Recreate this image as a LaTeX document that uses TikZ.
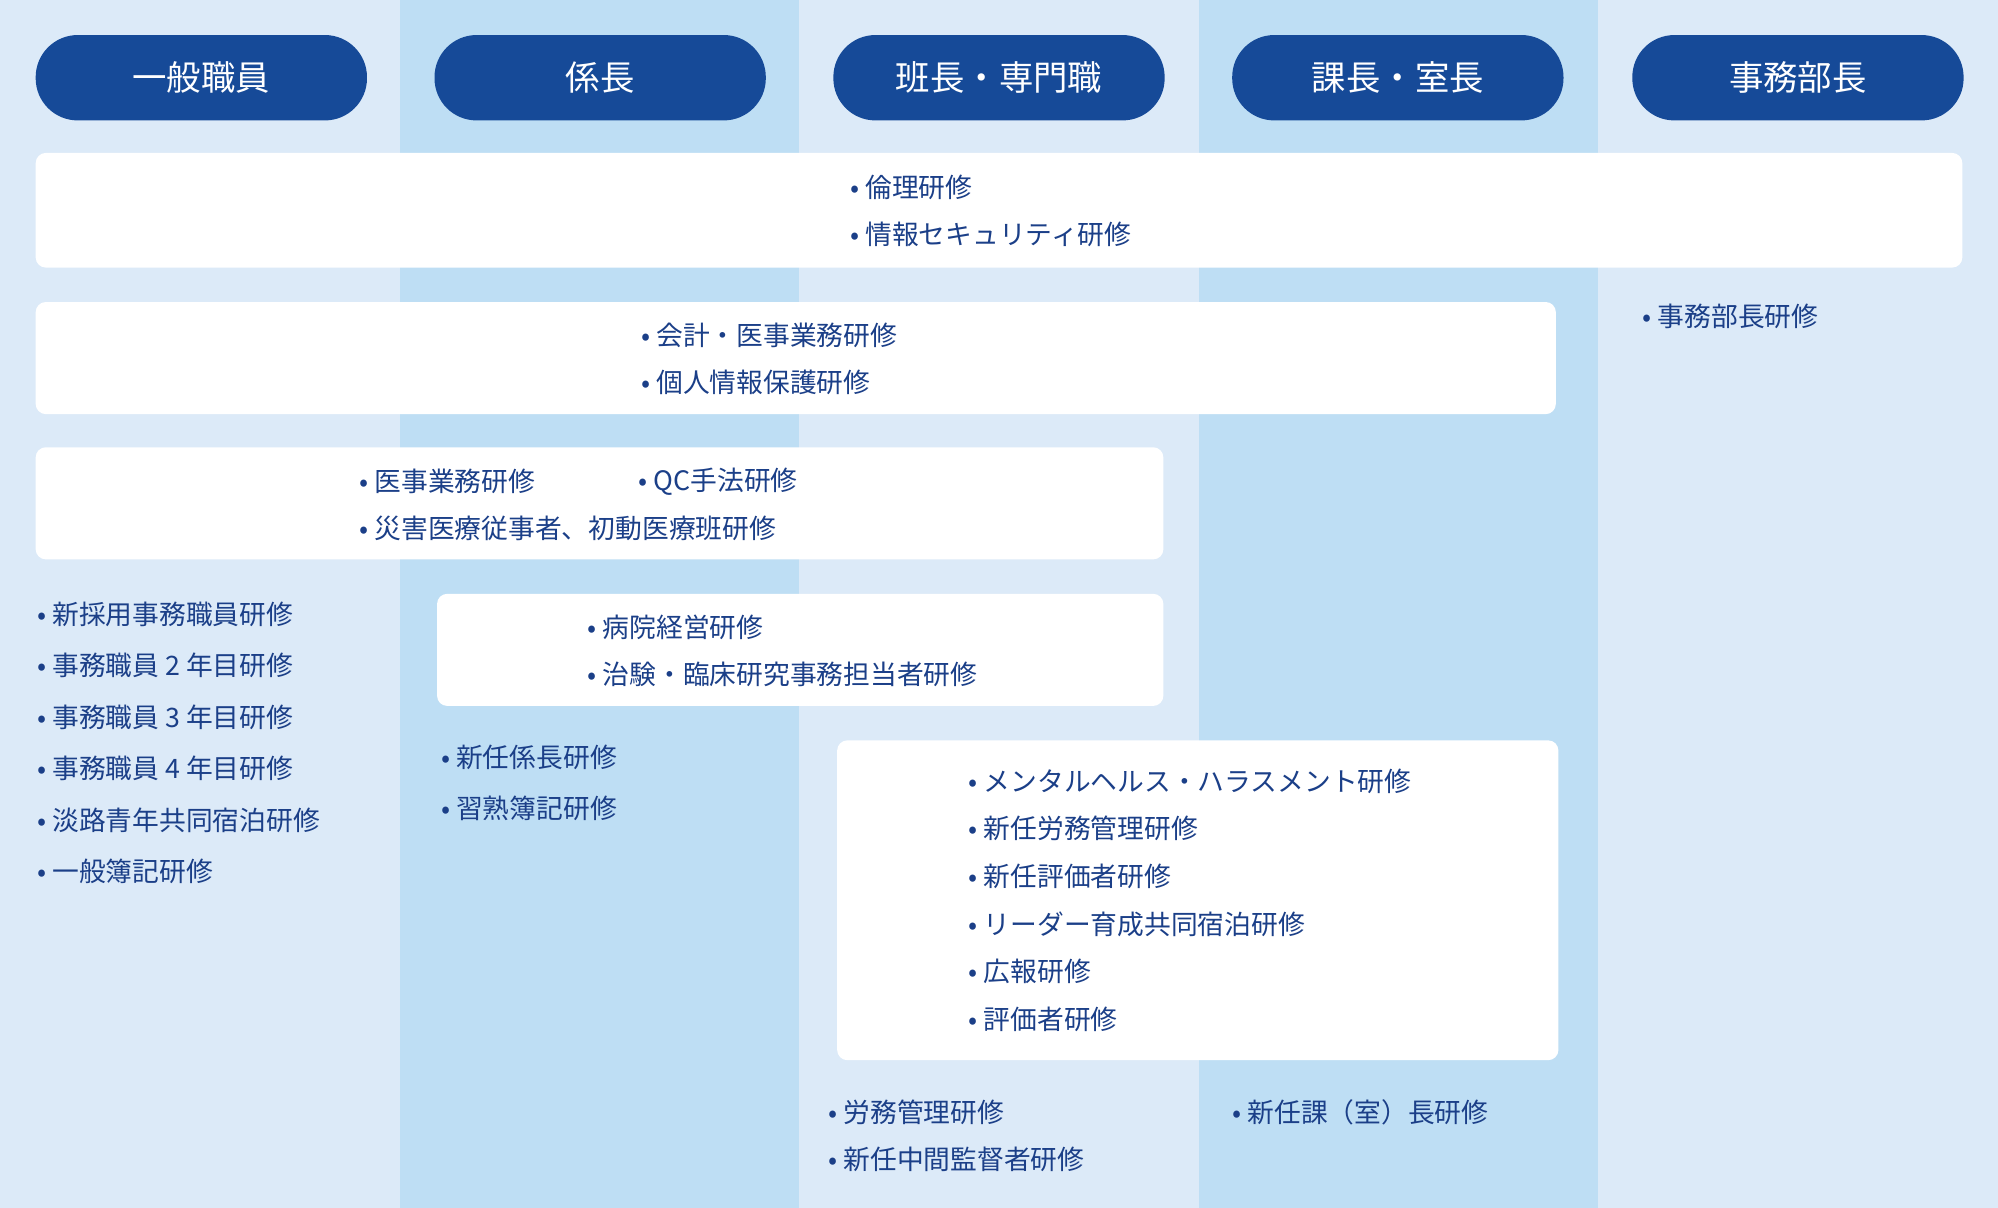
\documentclass[tikz,border=0pt]{standalone}
\usepackage{fontspec}
\setmainfont{Noto Sans CJK JP}
\usepackage{xcolor}
\usetikzlibrary{positioning}
\definecolor{collight}{HTML}{DCEAF8}
\definecolor{coldark}{HTML}{BEDEF4}
\definecolor{pillblue}{HTML}{164A98}
\definecolor{textblue}{HTML}{1B3F88}
\tikzstyle{pill} = [rectangle, rounded corners=33pt, fill=pillblue, text=white,
    minimum width=260pt, minimum height=67pt, font=\fontsize{27}{30}\selectfont]
\tikzstyle{panel} = [rectangle, rounded corners=8pt, fill=white]
\tikzstyle{item} = [anchor=west, inner sep=0pt, text=textblue,
    font=\fontsize{21}{24}\selectfont]

\begin{document}
\begin{tikzpicture}[x=1pt, y=-1pt]
    % Column backgrounds
    \foreach \i/\c in {0/collight, 1/coldark, 2/collight, 3/coldark, 4/collight}
        \fill [\c] (313.6*\i, 0) rectangle (313.6*\i+313.6, 948);
    \useasboundingbox (0,0) rectangle (1568,948);

    % Headers
    \node [pill] (general) at (158, 61) {一般職員};
    \node [pill] (chief) at (471, 61) {係長};
    \node [pill] (leader) at (784, 61) {班長・専門職};
    \node [pill] (manager) at (1097, 61) {課長・室長};
    \node [pill] (director) at (1411, 61) {事務部長};

    % White panels
    \fill [panel] (28,120) rectangle (1540,210);
    \fill [panel] (28,237) rectangle (1221,325);
    \fill [panel] (28,351) rectangle (913,439);
    \fill [panel] (343,466) rectangle (913,554);
    \fill [panel] (657,581) rectangle (1223,832);

    % All levels
    \node [item] (ethics) at (667,147) {• 倫理研修};
    \node [item] (security) at (667,184) {• 情報セキュリティ研修};
    \node [item] (dirtrain) at (1289,248) {• 事務部長研修};

    % Up to manager
    \node [item] (account) at (503,263) {• 会計・医事業務研修};
    \node [item] (privacy) at (503,300) {• 個人情報保護研修};

    % Up to leader
    \node [item] (medical) at (282,378) {• 医事業務研修};
    \node [item] (qc) at (501,378) {• QC手法研修};
    \node [item] (disaster) at (282,415) {• 災害医療従事者、初動医療班研修};

    % General staff
    \foreach \t [count=\k from 0] in {新採用事務職員研修, 事務職員 2 年目研修,
        事務職員 3 年目研修, 事務職員 4 年目研修, 淡路青年共同宿泊研修, 一般簿記研修}
        \node [item] (gen\k) at (29, 482+40.4*\k) {• \t};

    % Chief to leader
    \node [item] (hospital) at (461,492) {• 病院経営研修};
    \node [item] (clinical) at (461,529) {• 治験・臨床研究事務担当者研修};

    % Chief
    \node [item] (newchief) at (346,594) {• 新任係長研修};
    \node [item] (bookkeep) at (346,634) {• 習熟簿記研修};

    % Leader and manager
    \foreach \t [count=\k from 0] in {メンタルヘルス・ハラスメント研修, 新任労務管理研修,
        新任評価者研修, リーダー育成共同宿泊研修, 広報研修, 評価者研修}
        \node [item] (lead\k) at (760, 613+37.4*\k) {• \t};

    % Bottom
    \node [item] (labor) at (650,873) {• 労務管理研修};
    \node [item] (supervisor) at (650,910) {• 新任中間監督者研修};
    \node [item] (newmanager) at (967,873) {• 新任課（室）長研修};
\end{tikzpicture}
\end{document}
